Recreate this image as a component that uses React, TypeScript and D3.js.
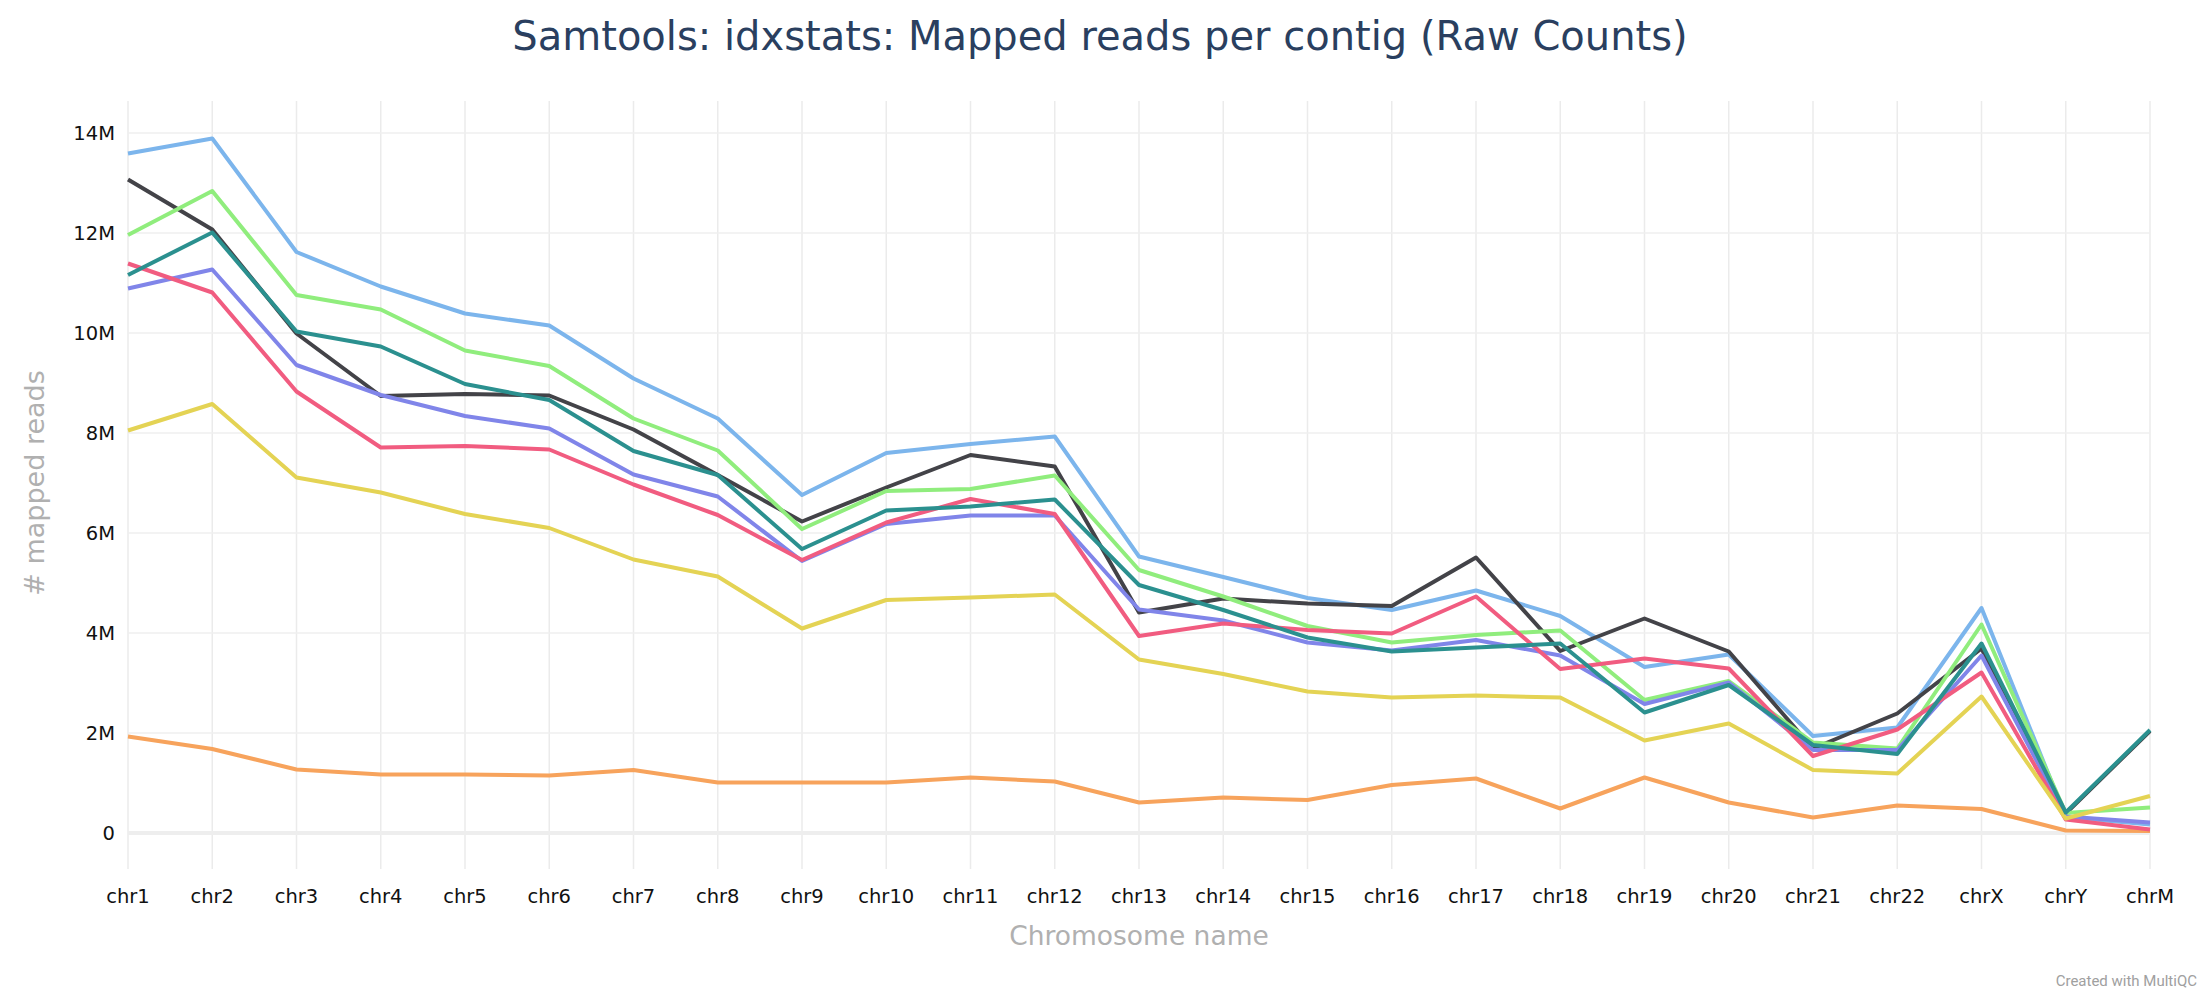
import React, { useEffect, useRef } from 'react';
import * as d3 from 'd3';

// contig names on the x axis
const chromosomes = [
  'chr1', 'chr2', 'chr3', 'chr4', 'chr5', 'chr6', 'chr7', 'chr8', 'chr9', 'chr10',
  'chr11', 'chr12', 'chr13', 'chr14', 'chr15', 'chr16', 'chr17', 'chr18', 'chr19',
  'chr20', 'chr21', 'chr22', 'chrX', 'chrY', 'chrM',
];

// mapped reads per contig, in millions
const sampleBlue = [13.59, 13.89, 11.62, 10.93, 10.39, 10.15, 9.09, 8.29, 6.76, 7.60, 7.78, 7.93, 5.53, 5.12, 4.70, 4.46, 4.85, 4.34, 3.32, 3.57, 1.94, 2.11, 4.50, 0.32, 0.17];
const sampleBlack = [13.07, 12.07, 9.99, 8.74, 8.78, 8.75, 8.07, 7.16, 6.23, 6.91, 7.56, 7.33, 4.41, 4.69, 4.59, 4.54, 5.51, 3.64, 4.29, 3.63, 1.69, 2.39, 3.69, 0.39, 2.04];
const sampleGreen = [11.96, 12.84, 10.76, 10.47, 9.65, 9.34, 8.29, 7.65, 6.08, 6.84, 6.88, 7.15, 5.26, 4.73, 4.14, 3.81, 3.96, 4.05, 2.66, 3.04, 1.81, 1.69, 4.17, 0.40, 0.51];
const sampleOrange = [1.93, 1.68, 1.27, 1.17, 1.17, 1.15, 1.26, 1.01, 1.01, 1.01, 1.11, 1.03, 0.61, 0.71, 0.66, 0.96, 1.09, 0.49, 1.11, 0.61, 0.31, 0.55, 0.48, 0.05, 0.04];
const samplePurple = [10.89, 11.27, 9.36, 8.76, 8.34, 8.09, 7.17, 6.73, 5.44, 6.18, 6.35, 6.35, 4.47, 4.25, 3.81, 3.65, 3.86, 3.55, 2.58, 3.01, 1.66, 1.66, 3.55, 0.33, 0.21];
const samplePink = [11.39, 10.81, 8.83, 7.71, 7.74, 7.67, 6.97, 6.36, 5.46, 6.21, 6.68, 6.38, 3.94, 4.19, 4.06, 3.99, 4.73, 3.28, 3.49, 3.29, 1.54, 2.07, 3.21, 0.27, 0.07];
const sampleYellow = [8.05, 8.58, 7.11, 6.81, 6.38, 6.10, 5.47, 5.13, 4.09, 4.66, 4.71, 4.77, 3.47, 3.18, 2.83, 2.71, 2.75, 2.71, 1.85, 2.19, 1.26, 1.19, 2.73, 0.29, 0.74];
const sampleTeal = [11.16, 12.01, 10.03, 9.73, 8.98, 8.66, 7.64, 7.16, 5.68, 6.45, 6.53, 6.67, 4.96, 4.46, 3.91, 3.63, 3.71, 3.79, 2.41, 2.96, 1.76, 1.58, 3.79, 0.41, 2.06];

const yTicks = [0, 2, 4, 6, 8, 10, 12, 14];

const series = [
  { values: sampleBlue, color: '#7cb5ec' },
  { values: sampleBlack, color: '#434348' },
  { values: sampleGreen, color: '#90ed7d' },
  { values: sampleOrange, color: '#f7a35c' },
  { values: samplePurple, color: '#8085e9' },
  { values: samplePink, color: '#f15c80' },
  { values: sampleYellow, color: '#e4d354' },
  { values: sampleTeal, color: '#2b908f' },
];

const App = () => {
  const svgRef = useRef<SVGSVGElement>(null);

  useEffect(() => {
    document.body.style.margin = '0';
    if (!svgRef.current) return;

    const width = 2200;
    const height = 1000;
    const plot = { left: 128, right: 2150, top: 101, bottom: 869 };
    const font = '"DejaVu Sans", sans-serif';

    const svg = d3.select(svgRef.current);
    svg.selectAll('*').remove();
    svg.attr('width', width).attr('height', height);

    svg.append('rect').attr('width', width).attr('height', height).attr('fill', 'white');

    const x = d3.scalePoint<string>().domain(chromosomes).range([plot.left, plot.right]);
    const y = d3.scaleLinear().domain([-0.72, 14.64]).range([plot.bottom, plot.top]);

    // vertical grid
    svg.append('g')
      .selectAll('line')
      .data(chromosomes)
      .enter().append('line')
        .attr('x1', d => x(d) || 0)
        .attr('x2', d => x(d) || 0)
        .attr('y1', plot.top)
        .attr('y2', plot.bottom)
        .attr('stroke', '#ebebeb')
        .attr('stroke-width', 1.5);

    // horizontal grid
    svg.append('g')
      .selectAll('line')
      .data(yTicks)
      .enter().append('line')
        .attr('x1', plot.left)
        .attr('x2', plot.right)
        .attr('y1', d => y(d))
        .attr('y2', d => y(d))
        .attr('stroke', d => d === 0 ? '#eeeeee' : '#efefef')
        .attr('stroke-width', d => d === 0 ? 4 : 1.5);

    // y tick labels
    svg.append('g')
      .attr('font-family', font)
      .attr('font-size', 19.5)
      .attr('fill', '#111')
      .attr('text-anchor', 'end')
      .selectAll('text')
      .data(yTicks)
      .enter().append('text')
        .attr('x', 115)
        .attr('y', d => y(d))
        .attr('dy', '0.36em')
        .text(d => d === 0 ? '0' : `${d}M`);

    // x tick labels
    svg.append('g')
      .attr('font-family', font)
      .attr('font-size', 19.5)
      .attr('fill', '#111')
      .attr('text-anchor', 'middle')
      .selectAll('text')
      .data(chromosomes)
      .enter().append('text')
        .attr('x', d => x(d) || 0)
        .attr('y', 903)
        .text(d => d);

    // lines
    const line = d3.line<number>()
      .x((_, i) => x(chromosomes[i]) || 0)
      .y(d => y(d));

    svg.append('g')
      .selectAll('path')
      .data(series)
      .enter().append('path')
        .attr('d', d => line(d.values))
        .attr('fill', 'none')
        .attr('stroke', d => d.color)
        .attr('stroke-width', 4)
        .attr('stroke-linejoin', 'round');

    // title
    svg.append('text')
      .attr('x', 1100)
      .attr('y', 50)
      .attr('text-anchor', 'middle')
      .attr('font-family', font)
      .attr('font-size', 40)
      .attr('fill', '#2a3f5f')
      .text('Samtools: idxstats: Mapped reads per contig (Raw Counts)');

    // axis titles
    svg.append('text')
      .attr('x', (plot.left + plot.right) / 2)
      .attr('y', 945)
      .attr('text-anchor', 'middle')
      .attr('font-family', font)
      .attr('font-size', 26.5)
      .attr('fill', '#b0b0b0')
      .text('Chromosome name');

    svg.append('text')
      .attr('transform', 'translate(44,483) rotate(-90)')
      .attr('text-anchor', 'middle')
      .attr('font-family', font)
      .attr('font-size', 27)
      .attr('fill', '#b0b0b0')
      .text('# mapped reads');

    svg.append('text')
      .attr('x', 2197)
      .attr('y', 986)
      .attr('text-anchor', 'end')
      .attr('font-family', 'Roboto, sans-serif')
      .attr('font-size', 15)
      .attr('fill', '#a0a0a0')
      .text('Created with MultiQC');
  }, []);

  return (
    <div>
      <svg ref={svgRef} style={{ display: 'block' }}></svg>
    </div>
  );
};

export default App;
